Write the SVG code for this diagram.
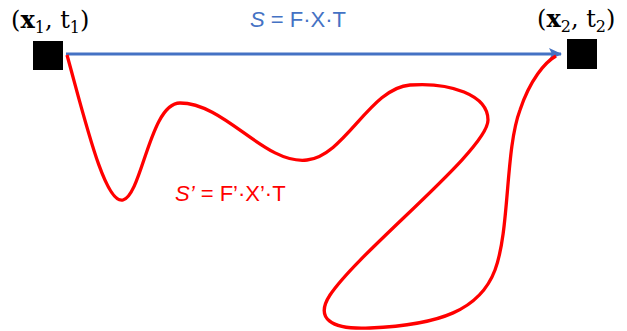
<svg xmlns="http://www.w3.org/2000/svg" width="627" height="331" viewBox="0 0 627 331">
<style>
.lbl{font-family:"DejaVu Serif","Liberation Serif",serif;font-size:24px;fill:#000}
.b{font-weight:bold}
.sub{font-size:16px}
.eq{font-family:"Liberation Sans","Open Sans",sans-serif;font-size:22px}
.node{fill:#000}
</style>
<defs>
<marker id="ah" markerWidth="13" markerHeight="12" refX="12" refY="6" orient="auto" markerUnits="userSpaceOnUse">
<path d="M0,0 L13,6 L0,12 L3,6 Z" fill="#4472C4"/>
</marker>
</defs>
<rect width="627" height="331" fill="#fff"/>
<g id="connectors">
<line x1="66" y1="54" x2="561" y2="54" stroke="#4472C4" stroke-width="3" marker-end="url(#ah)"/>
<path d="M 67 55 C 85 120, 105 205, 123 200 C 142 195, 150 103, 180 103 C 225 103, 265 165, 307 160 C 345 156, 370 88, 410 85 C 450 82, 488 95, 488 120 C 488 150, 360 250, 330 295 C 315 318, 330 330, 370 328 C 440 325, 480 310, 495 270 C 510 230, 505 150, 520 110 C 530 80, 545 62, 556 56" fill="none" stroke="#FF0000" stroke-width="3.3"/>
<text class="eq" x="250" y="27" fill="#4472C4"><tspan font-style="italic">S</tspan> = F·X·T</text>
<text class="eq" x="175" y="201" fill="#FF0000"><tspan font-style="italic">S’</tspan> = F’·X’·T</text>
</g>
<g id="node1">
<rect class="node" x="33" y="41" width="30" height="29"/>
<text class="lbl" x="11" y="28">(<tspan class="b">x</tspan><tspan class="sub" dy="5">1</tspan><tspan dy="-5">, t</tspan><tspan class="sub" dy="5">1</tspan><tspan dy="-5">)</tspan></text>
</g>
<g id="node2">
<rect class="node" x="567" y="39" width="30" height="30"/>
<text class="lbl" x="537" y="27">(<tspan class="b">x</tspan><tspan class="sub" dy="5">2</tspan><tspan dy="-5">, t</tspan><tspan class="sub" dy="5">2</tspan><tspan dy="-5">)</tspan></text>
</g>
</svg>
